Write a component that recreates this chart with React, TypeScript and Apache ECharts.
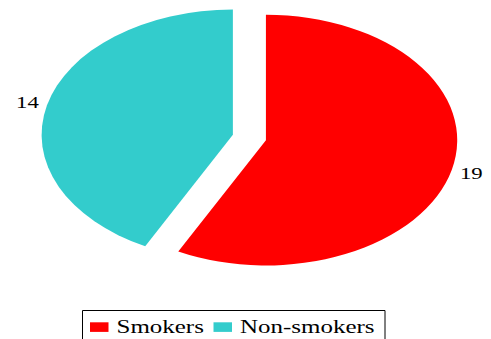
import React, { useEffect, useRef } from "react";
import * as echarts from "echarts";

const categories = ["Smokers", "Non-smokers"];
const values = [19, 14];
const colors = ["#FF0000", "#33CCCC"];

const FONT = "Liberation Serif";

export default function App() {
  const ref = useRef<HTMLDivElement | null>(null);

  useEffect(() => {
    if (!ref.current) return;

    // warm up the serif font before the chart's texts are laid out
    try {
      const cv = document.createElement("canvas");
      const ctx = cv.getContext("2d");
      if (ctx) {
        ctx.font = "18px " + FONT;
        ctx.measureText("Smokers Non-smokers 14 19");
      }
    } catch (e) {}

    const chart = echarts.init(ref.current, undefined, { renderer: "svg" });

    const total = values.reduce((a, b) => a + b, 0);
    const baseX = 249.4;
    const baseY = 137.5;
    const R = 191.3;
    const ratio = 125.3 / 191.3;
    const explode = 17;
    const labelFactor = 1.105;

    const renderItem = (params: any, api: any) => {
      const i = params.dataIndex;
      const v = api.value(0);
      let before = 0;
      for (let k = 0; k < i; k++) before += values[k];
      const start = -Math.PI / 2 + (2 * Math.PI * before) / total;
      const end = start + (2 * Math.PI * v) / total;
      const mid = (start + end) / 2;
      const cx = baseX + explode * Math.cos(mid);
      const cy = baseY + explode * ratio * Math.sin(mid);
      const lx = cx + R * labelFactor * Math.cos(mid);
      const ly = cy + R * ratio * labelFactor * Math.sin(mid);
      return {
        type: "group",
        children: [
          {
            type: "sector",
            x: cx,
            y: cy,
            scaleY: ratio,
            shape: { cx: 0, cy: 0, r: R, r0: 0, startAngle: start, endAngle: end, clockwise: true },
            style: { fill: colors[i] },
          },
          {
            type: "text",
            x: lx,
            y: ly,
            scaleX: 1.3,
            style: {
              text: String(v),
              fontFamily: FONT,
              fontSize: 17.5,
              fill: "#000",
              align: "center",
              verticalAlign: "middle",
            },
          },
        ],
      };
    };

    const legendItems: any[] = [
      {
        type: "rect",
        shape: { x: 82.5, y: 310.5, width: 302.5, height: 40 },
        style: { fill: "#fff", stroke: "#000", lineWidth: 1 },
      },
    ];
    const squareX = [90, 213.5];
    const textX = [116.5, 240];
    categories.forEach((c, i) => {
      legendItems.push({
        type: "rect",
        shape: { x: squareX[i], y: 322.3, width: 18.5, height: 9.6 },
        style: { fill: colors[i] },
      });
      legendItems.push({
        type: "text",
        x: textX[i],
        y: 326.5,
        scaleX: 1.35,
        style: {
          text: c,
          fontFamily: FONT,
          fontSize: 18.5,
          fill: "#000",
          align: "left",
          verticalAlign: "middle",
        },
      });
    });

    const option: any = {
      animation: false,
      backgroundColor: "#fff",
      textStyle: { fontFamily: FONT },
      series: [
        {
          type: "custom",
          coordinateSystem: "none",
          renderItem,
          data: values.map((v, i) => ({ name: categories[i], value: [v] })),
        },
      ],
      graphic: legendItems,
    };
    chart.setOption(option);

    let disposed = false;
    const rerender = () => {
      if (disposed) return;
      chart.setOption(option, true);
    };
    const timer = window.setTimeout(rerender, 150);
    try {
      (document as any).fonts?.load?.("18px " + FONT).then(rerender, () => {});
    } catch (e) {}

    return () => {
      disposed = true;
      window.clearTimeout(timer);
      chart.dispose();
    };
  }, []);

  return (
    <div
      ref={ref}
      style={{
        position: "fixed",
        left: 0,
        top: 0,
        width: 491,
        height: 339,
        background: "#fff",
        fontFamily: "'Liberation Serif', serif",
      }}
    />
  );
}
